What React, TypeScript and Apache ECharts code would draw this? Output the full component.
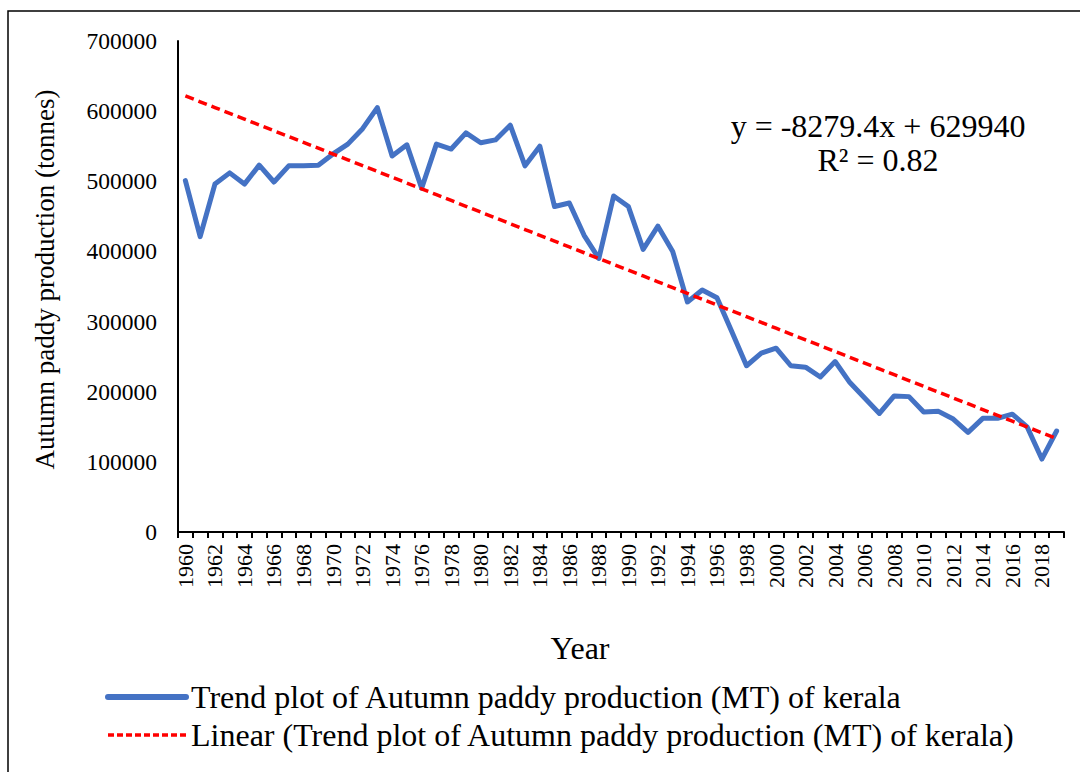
import React, { useEffect, useRef } from "react";
import * as echarts from "echarts";

const years: string[] = [];
for (let y = 1960; y <= 2019; y++) years.push(String(y));

const production: number[] = [
  501000, 421000, 496000, 512000, 496000, 523000, 499000, 522000, 522000, 523000,
  539000, 553000, 575000, 605000, 536000, 552000, 490000, 553000, 546000, 569000,
  555000, 559000, 580000, 522000, 550000, 464000, 469000, 423000, 390000, 479000,
  464000, 403000, 436000, 400000, 328000, 345000, 334000, 286000, 237000, 255000,
  262000, 237000, 235000, 221000, 243000, 213000, 191000, 169000, 194000, 193000,
  171000, 172000, 161000, 142000, 162000, 162000, 168000, 150000, 104000, 144000,
];

const trendSlope = -8279.4;
const trendIntercept = 629940;
const trend: number[] = production.map((_, i) => trendSlope * (i + 1) + trendIntercept);

const yTicks = { min: 0, max: 700000, interval: 100000 };

const seriesNames = [
  "Trend plot of Autumn paddy production (MT) of kerala",
  "Linear (Trend plot of Autumn paddy production (MT) of kerala)",
];

const FONT = "'Liberation Serif', 'Times New Roman', serif";

export default function App() {
  const ref = useRef<HTMLDivElement>(null);
  useEffect(() => {
    if (!ref.current) return;
    const chart = echarts.init(ref.current, null, { renderer: "svg" });
    chart.setOption({
      animation: false,
      backgroundColor: "#ffffff",
      grid: { left: 178, right: 16, top: 41, bottom: 240, containLabel: false },
      xAxis: {
        type: "category",
        data: years,
        boundaryGap: true,
        name: "Year",
        nameLocation: "middle",
        nameGap: 100,
        nameTextStyle: {
          color: "#000",
          fontSize: 32,
          fontFamily: FONT,
          padding: [0, 82, 0, 0],
        },
        axisLine: { lineStyle: { color: "#000", width: 2 } },
        axisTick: { show: true, interval: 0, length: 6, lineStyle: { color: "#000", width: 2 } },
        axisLabel: {
          interval: 1,
          rotate: 90,
          margin: 12,
          color: "#000",
          fontSize: 22,
          fontFamily: FONT,
        },
        splitLine: { show: false },
      },
      yAxis: {
        type: "value",
        min: yTicks.min,
        max: yTicks.max,
        interval: yTicks.interval,
        name: "Autumn paddy production (tonnes)",
        nameLocation: "middle",
        nameGap: 120,
        nameRotate: 90,
        nameTextStyle: {
          color: "#000",
          fontSize: 27,
          fontFamily: FONT,
          padding: [0, 0, 0, 14],
        },
        axisLine: { show: true, lineStyle: { color: "#000", width: 2 } },
        axisTick: { show: false },
        axisLabel: {
          color: "#000",
          fontSize: 23.5,
          fontFamily: FONT,
          margin: 21,
          formatter: (v: number) => String(v),
        },
        splitLine: { show: false },
      },
      legend: {
        orient: "vertical",
        left: 105,
        top: 681,
        padding: 0,
        itemWidth: 78,
        itemHeight: 2,
        itemGap: 6,
        itemStyle: { opacity: 0 },
        textStyle: { color: "#000", fontSize: 32, fontFamily: FONT },
        data: [
          { name: seriesNames[0], lineStyle: { width: 6, color: "#4472C4" } },
          { name: seriesNames[1], lineStyle: { width: 3.5, color: "#FF0000", type: [6, 3] } },
        ],
      },
      graphic: [
        {
          type: "rect",
          shape: { x: 8, y: 11, width: 1200, height: 900 },
          style: { fill: "none", stroke: "#000", lineWidth: 1.5 },
          silent: true,
        },
        {
          type: "text",
          x: 878,
          y: 126,
          style: {
            text: "y = -8279.4x + 629940",
            fill: "#000",
            font: `32px ${FONT}`,
            textAlign: "center",
            textVerticalAlign: "middle",
          },
        },
        {
          type: "text",
          x: 878,
          y: 160,
          style: {
            text: "R² = 0.82",
            fill: "#000",
            font: `32px ${FONT}`,
            textAlign: "center",
            textVerticalAlign: "middle",
          },
        },
      ],
      series: [
        {
          name: seriesNames[0],
          type: "line",
          data: production,
          symbol: "none",
          lineStyle: { color: "#4472C4", width: 5, join: "round", cap: "round" },
          itemStyle: { color: "#4472C4" },
          z: 2,
        },
        {
          name: seriesNames[1],
          type: "line",
          data: trend,
          symbol: "none",
          lineStyle: { color: "#FF0000", width: 3.5, type: [9, 5] },
          itemStyle: { color: "#FF0000" },
          z: 3,
        },
      ],
    });
    return () => chart.dispose();
  }, []);
  return (
    <div
      ref={ref}
      style={{ position: "fixed", left: 0, top: 0, width: 1080, height: 772 }}
    />
  );
}
